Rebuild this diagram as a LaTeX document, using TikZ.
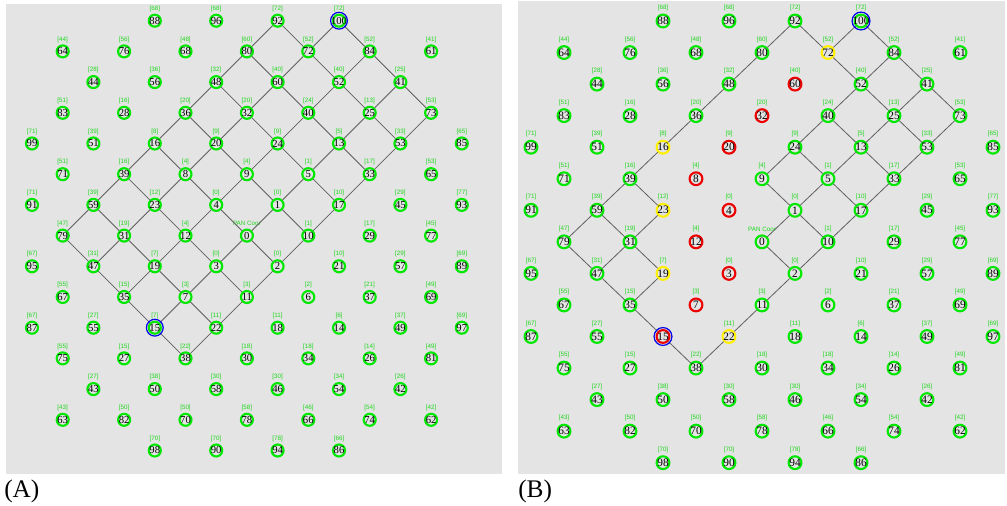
\documentclass[tikz,border=0pt]{standalone}
\usepackage{fontspec}
\setmainfont{Liberation Serif}
\newfontfamily\lblfont{Liberation Sans}
\definecolor{bggray}{RGB}{228,228,228}
\definecolor{ngreen}{RGB}{0,232,0}
\definecolor{lgreen}{RGB}{30,215,30}
\definecolor{nred}{RGB}{236,0,0}
\definecolor{nyellow}{RGB}{255,240,0}
\definecolor{nblue}{RGB}{0,0,235}
\definecolor{edgegray}{RGB}{95,95,95}
\tikzset{
  pnodeA/.style={circle, draw=ngreen, fill=bggray, line width=1.6pt, minimum size=9pt, inner sep=0pt, text=black, font=\fontsize{8}{9}\selectfont},
  pnodeB/.style={pnodeA, minimum size=9.6pt, font=\fontsize{8.5}{9}\selectfont},
  plabel/.style={text=lgreen, font=\lblfont\fontsize{4.7}{5}\selectfont, inner sep=0pt},
  link/.style={draw=edgegray, line width=0.6pt},
  bluering/.style={draw=nblue, line width=0.9pt},
  captext/.style={font=\fontsize{19}{22}\selectfont, inner sep=0pt, anchor=west},
}
\def\nodedataA{0/4/88/68, 0/6/96/68, 0/8/92/72, 0/10/100/72, 1/1/64/44, 1/3/76/56, 1/5/68/48, 1/7/80/60, 1/9/72/52, 1/11/84/52, 1/13/61/41, 2/2/44/28, 2/4/56/36, 2/6/48/32, 2/8/60/40, 2/10/52/40, 2/12/41/25, 3/1/83/51, 3/3/28/16, 3/5/36/20, 3/7/32/20, 3/9/40/24, 3/11/25/13, 3/13/73/53, 4/0/99/71, 4/2/51/39, 4/4/16/8, 4/6/20/9, 4/8/24/9, 4/10/13/5, 4/12/53/33, 4/14/85/65, 5/1/71/51, 5/3/39/16, 5/5/8/4, 5/7/9/4, 5/9/5/1, 5/11/33/17, 5/13/65/53, 6/0/91/71, 6/2/59/39, 6/4/23/12, 6/6/4/0, 6/8/1/0, 6/10/17/10, 6/12/45/29, 6/14/93/77, 7/1/79/47, 7/3/31/19, 7/5/12/4, 7/7/0/-2, 7/9/10/1, 7/11/29/17, 7/13/77/45, 8/0/95/67, 8/2/47/31, 8/4/19/7, 8/6/3/0, 8/8/2/0, 8/10/21/10, 8/12/57/29, 8/14/89/69, 9/1/67/55, 9/3/35/15, 9/5/7/3, 9/7/11/3, 9/9/6/2, 9/11/37/21, 9/13/69/49, 10/0/87/67, 10/2/55/27, 10/4/15/7, 10/6/22/11, 10/8/18/11, 10/10/14/6, 10/12/49/37, 10/14/97/69, 11/1/75/55, 11/3/27/15, 11/5/38/22, 11/7/30/18, 11/9/34/18, 11/11/26/14, 11/13/81/49, 12/2/43/27, 12/4/50/38, 12/6/58/30, 12/8/46/30, 12/10/54/34, 12/12/42/26, 13/1/63/43, 13/3/82/50, 13/5/70/50, 13/7/78/58, 13/9/66/46, 13/11/74/54, 13/13/62/42, 14/4/98/70, 14/6/90/70, 14/8/94/78, 14/10/86/66}
\def\nodedataB{0/4/88/68/ngreen, 0/6/96/68/ngreen, 0/8/92/72/ngreen, 0/10/100/72/ngreen, 1/1/64/44/ngreen, 1/3/76/56/ngreen, 1/5/68/48/ngreen, 1/7/80/60/ngreen, 1/9/72/52/nyellow, 1/11/84/52/ngreen, 1/13/61/41/ngreen, 2/2/44/28/ngreen, 2/4/56/36/ngreen, 2/6/48/32/ngreen, 2/8/60/40/nred, 2/10/52/40/ngreen, 2/12/41/25/ngreen, 3/1/83/51/ngreen, 3/3/28/16/ngreen, 3/5/36/20/ngreen, 3/7/32/20/nred, 3/9/40/24/ngreen, 3/11/25/13/ngreen, 3/13/73/53/ngreen, 4/0/99/71/ngreen, 4/2/51/39/ngreen, 4/4/16/8/nyellow, 4/6/20/9/nred, 4/8/24/9/ngreen, 4/10/13/5/ngreen, 4/12/53/33/ngreen, 4/14/85/65/ngreen, 5/1/71/51/ngreen, 5/3/39/16/ngreen, 5/5/8/4/nred, 5/7/9/4/ngreen, 5/9/5/1/ngreen, 5/11/33/17/ngreen, 5/13/65/53/ngreen, 6/0/91/71/ngreen, 6/2/59/39/ngreen, 6/4/23/12/nyellow, 6/6/4/0/nred, 6/8/1/0/ngreen, 6/10/17/10/ngreen, 6/12/45/29/ngreen, 6/14/93/77/ngreen, 7/1/79/47/ngreen, 7/3/31/19/ngreen, 7/5/12/4/nred, 7/7/0/-2/ngreen, 7/9/10/1/ngreen, 7/11/29/17/ngreen, 7/13/77/45/ngreen, 8/0/95/67/ngreen, 8/2/47/31/ngreen, 8/4/19/7/nyellow, 8/6/3/0/nred, 8/8/2/0/ngreen, 8/10/21/10/ngreen, 8/12/57/29/ngreen, 8/14/89/69/ngreen, 9/1/67/55/ngreen, 9/3/35/15/ngreen, 9/5/7/3/nred, 9/7/11/3/ngreen, 9/9/6/2/ngreen, 9/11/37/21/ngreen, 9/13/69/49/ngreen, 10/0/87/67/ngreen, 10/2/55/27/ngreen, 10/4/15/-1/nred, 10/6/22/11/nyellow, 10/8/18/11/ngreen, 10/10/14/6/ngreen, 10/12/49/37/ngreen, 10/14/97/69/ngreen, 11/1/75/55/ngreen, 11/3/27/15/ngreen, 11/5/38/22/ngreen, 11/7/30/18/ngreen, 11/9/34/18/ngreen, 11/11/26/14/ngreen, 11/13/81/49/ngreen, 12/2/43/27/ngreen, 12/4/50/38/ngreen, 12/6/58/30/ngreen, 12/8/46/30/ngreen, 12/10/54/34/ngreen, 12/12/42/26/ngreen, 13/1/63/43/ngreen, 13/3/82/50/ngreen, 13/5/70/50/ngreen, 13/7/78/58/ngreen, 13/9/66/46/ngreen, 13/11/74/54/ngreen, 13/13/62/42/ngreen, 14/4/98/70/ngreen, 14/6/90/70/ngreen, 14/8/94/78/ngreen, 14/10/86/66/ngreen}
\def\edgesA{92/80, 80/48, 48/36, 36/16, 16/39, 39/59, 59/79, 100/72, 72/60, 60/32, 32/20, 20/8, 8/23, 23/31, 31/47, 84/52, 52/40, 40/24, 24/9, 9/4, 4/12, 12/19, 19/35, 41/25, 25/13, 13/5, 5/1, 1/0, 0/3, 3/7, 7/15, 73/53, 53/33, 33/17, 17/10, 10/2, 2/11, 11/22, 22/38, 100/84, 84/41, 41/73, 92/72, 72/52, 52/25, 25/53, 80/60, 60/40, 40/13, 13/33, 48/32, 32/24, 24/5, 5/17, 36/20, 20/9, 9/1, 1/10, 16/8, 8/4, 4/0, 0/2, 39/23, 23/12, 12/3, 3/11, 59/31, 31/19, 19/7, 7/22, 79/47, 47/35, 35/15, 15/38}
\def\edgesB{92/80, 80/48, 48/36, 36/16, 16/39, 39/59, 59/79, 100/72, 23/31, 31/47, 84/52, 52/40, 40/24, 24/9, 19/35, 41/25, 25/13, 13/5, 5/1, 1/0, 73/53, 53/33, 33/17, 17/10, 10/2, 2/11, 11/22, 22/38, 100/84, 84/41, 41/73, 92/72, 72/52, 52/25, 25/53, 40/13, 13/33, 24/5, 5/17, 9/1, 1/10, 0/2, 39/23, 59/31, 31/19, 79/47, 47/35, 35/15, 15/38}
\begin{document}
\begin{tikzpicture}[x=0.75pt,y=-0.75pt]
\useasboundingbox (0,0) rectangle (1007,506);
\fill[bggray] (5.5,4) rectangle (502,473.5);
\fill[bggray] (518,1.5) rectangle (1005,473.5);
% panel A nodes
\foreach \rr/\cc/\nid/\pa in \nodedataA {
  \node[pnodeA] (A\nid) at ({32+30.7*\cc},{20.7+30.7*\rr}) {\makebox[0pt]{\nid}};
  \ifnum\pa=-2
    \node[plabel] (LA\nid) at ({32+30.7*\cc},{20.7+30.7*\rr-12}) {PAN Coor};
  \fi
  \ifnum\pa>-1
    \node[plabel] (LA\nid) at ({32+30.7*\cc},{20.7+30.7*\rr-12}) {[\pa]};
  \fi
}
% panel B nodes
\foreach \rr/\cc/\nid/\pa/\clr in \nodedataB {
  \node[pnodeB, draw=\clr] (B\nid) at ({531+33*\cc},{21+31.55*\rr}) {\makebox[0pt]{\nid}};
  \ifnum\pa=-2
    \node[plabel] (LB\nid) at ({531+33*\cc},{21+31.55*\rr-13}) {PAN Coor};
  \fi
  \ifnum\pa>-1
    \node[plabel] (LB\nid) at ({531+33*\cc},{21+31.55*\rr-13}) {[\pa]};
  \fi
}
% connectors
\foreach \u/\v in \edgesA { \draw[link] (A\u) -- (A\v); }
\foreach \u/\v in \edgesB { \draw[link] (B\u) -- (B\v); }
% highlighted rings
\draw[bluering] (A100.center) circle[radius=6.3pt];
\draw[bluering] (A15.center) circle[radius=6.3pt];
\draw[bluering] (B100.center) circle[radius=6.7pt];
\draw[bluering] (B15.center) circle[radius=6.7pt];
% captions
\node[captext] (capA) at (4,491) {(A)};
\node[captext] (capB) at (518,491) {(B)};
\end{tikzpicture}
\end{document}
